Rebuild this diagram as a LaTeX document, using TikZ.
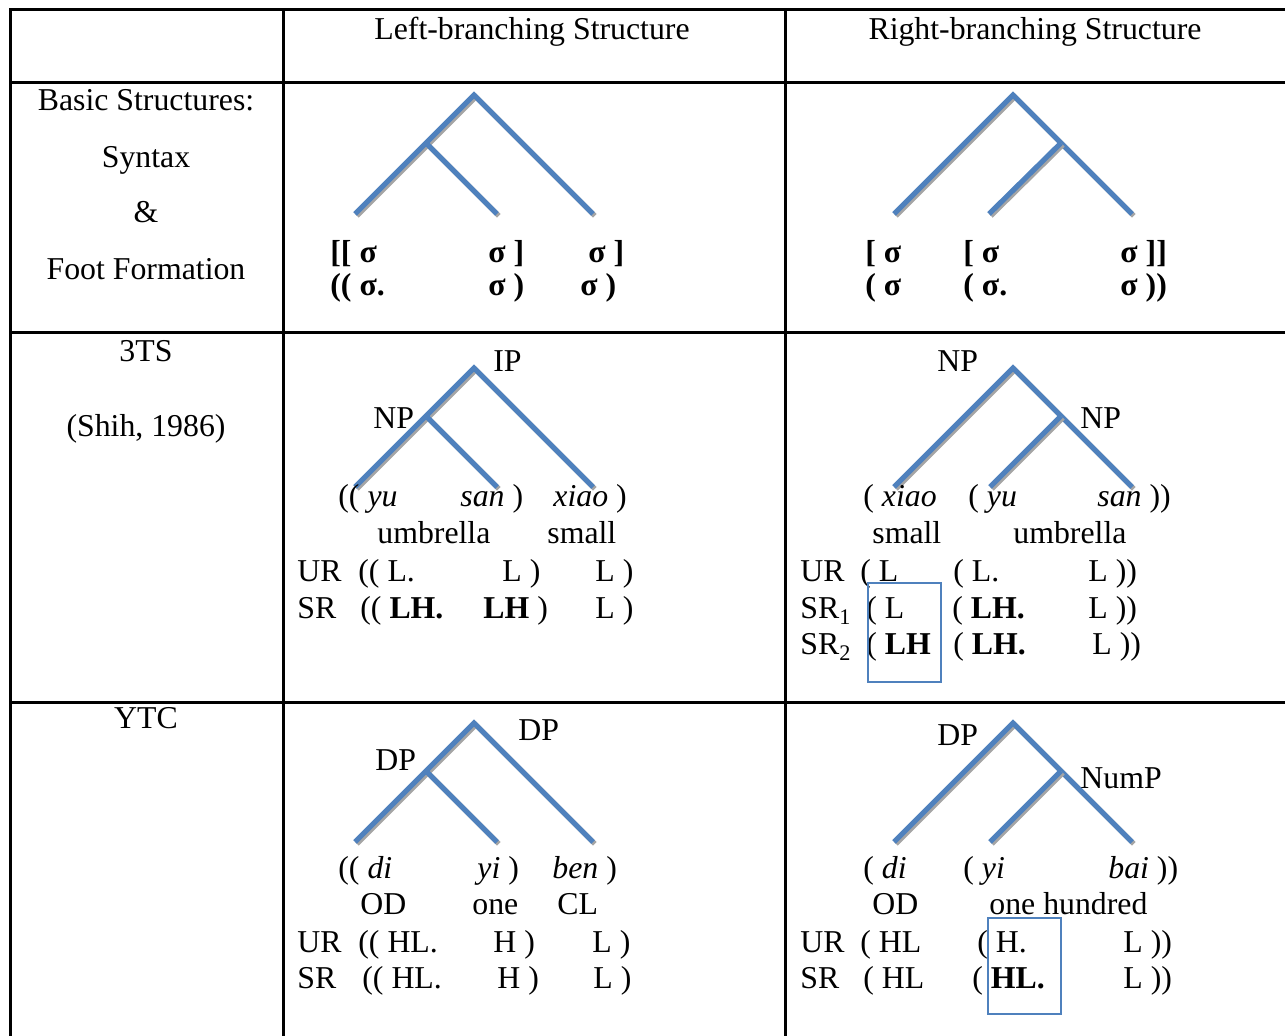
\documentclass[tikz,border=0pt]{standalone}
\usepackage{fontspec}
\setmainfont{Liberation Serif}
\definecolor{treeblue}{RGB}{79,129,189}
\definecolor{shadowgray}{RGB}{165,165,165}
\tikzset{
  >=stealth,
  gridline/.style={draw=black,line width=1.5pt},
  branch/.style={draw=treeblue,line width=2.6pt,line join=miter,
    preaction={draw=shadowgray,line width=2.6pt,transform canvas={xshift=0.9pt,yshift=-0.9pt}}},
  markbox/.style={draw=treeblue,line width=0.75pt},
  txt/.style={anchor=base west,inner sep=0pt},
  ctxt/.style={anchor=base,inner sep=0pt}
}

\begin{document}
\begin{tikzpicture}[x=0.5pt,y=-0.5pt,every node/.style={font=\fontsize{15.9pt}{19pt}\selectfont}]
  \useasboundingbox (0,0) rectangle (1285,1036);
  % table rules
  \draw[gridline] (1285,9.5) -- (10,9.5) -- (10,1036);
  \draw[gridline] (283,9.5) -- (283,1036);
  \draw[gridline] (785,9.5) -- (785,1036);
  \draw[gridline] (10,83) -- (1285,83);
  \draw[gridline] (10,333) -- (1285,333);
  \draw[gridline] (10,703) -- (1285,703);
  % header and first column
  \node[ctxt] (hLeft)  at (532,40)  {Left-branching Structure};
  \node[ctxt] (hRight) at (1035,40) {Right-branching Structure};
  \node[ctxt] (rBasic1) at (146,111) {Basic Structures:};
  \node[ctxt] (rBasic2) at (146,168) {Syntax};
  \node[ctxt] (rBasic3) at (146,223) {\&};
  \node[ctxt] (rBasic4) at (146,280) {Foot Formation};
  \node[ctxt] (r3ts1) at (146,362) {3TS};
  \node[ctxt] (r3ts2) at (146,437) {(Shih, 1986)};
  \node[ctxt] (rYtc)  at (146,729) {YTC};

  % basic structures, left-branching
  \coordinate (t1top) at (474,95);  \coordinate (t1mid) at (426,143);
  \coordinate (t1l) at (355,214);   \coordinate (t1m) at (497,214);  \coordinate (t1r) at (593,214);
  \draw[branch] (t1l) -- (t1top) -- (t1r);
  \draw[branch] (t1mid) -- (t1m);
  \node[txt] (bl1a) at (330,263) {\textbf{[[ σ}};
  \node[txt] (bl1b) at (488,263) {\textbf{σ ]}};
  \node[txt] (bl1c) at (588,263) {\textbf{σ ]}};
  \node[txt] (bl2a) at (330,296) {\textbf{(( σ.}};
  \node[txt] (bl2b) at (488,296) {\textbf{σ )}};
  \node[txt] (bl2c) at (580,296) {\textbf{σ )}};

  % basic structures, right-branching
  \coordinate (t2top) at (1013,95); \coordinate (t2mid) at (1061,143);
  \coordinate (t2l) at (894,214);   \coordinate (t2m) at (989,214);  \coordinate (t2r) at (1132,214);
  \draw[branch] (t2l) -- (t2top) -- (t2r);
  \draw[branch] (t2mid) -- (t2m);
  \node[txt] (br1a) at (865,263)  {\textbf{[ σ}};
  \node[txt] (br1b) at (963,263)  {\textbf{[ σ}};
  \node[txt] (br1c) at (1120,263) {\textbf{σ ]]}};
  \node[txt] (br2a) at (865,296)  {\textbf{( σ}};
  \node[txt] (br2b) at (963,296)  {\textbf{( σ.}};
  \node[txt] (br2c) at (1120,296) {\textbf{σ ))}};

  % 3TS, left-branching
  \coordinate (t3top) at (474,368); \coordinate (t3mid) at (426,416);
  \coordinate (t3l) at (355,487);   \coordinate (t3m) at (497,487);  \coordinate (t3r) at (593,487);
  \draw[branch] (t3l) -- (t3top) -- (t3r);
  \draw[branch] (t3mid) -- (t3m);
  \node[txt] (tlIP) at (493,372) {IP};
  \node[txt] (tlNP) at (373,429) {NP};
  \node[txt] (tlw1) at (338,507) {(( \textit{yu}};
  \node[txt] (tlw2) at (460,507) {\textit{san} )};
  \node[txt] (tlw3) at (553,507) {\textit{xiao} )};
  \node[txt] (tlg1) at (377,544) {umbrella};
  \node[txt] (tlg2) at (547,544) {small};
  \node[txt] (tlur)  at (297,582) {UR};
  \node[txt] (tlur1) at (358,582) {(( L.};
  \node[txt] (tlur2) at (502,582) {L )};
  \node[txt] (tlur3) at (595,582) {L )};
  \node[txt] (tlsr)  at (297,619) {SR};
  \node[txt] (tlsr1) at (360,619) {(( \textbf{LH.}};
  \node[txt] (tlsr2) at (483,619) {\textbf{LH} )};
  \node[txt] (tlsr3) at (595,619) {L )};

  % 3TS, right-branching
  \coordinate (t4top) at (1013,368); \coordinate (t4mid) at (1061,416);
  \coordinate (t4l) at (894,487);    \coordinate (t4m) at (990,487);  \coordinate (t4r) at (1132,487);
  \draw[branch] (t4l) -- (t4top) -- (t4r);
  \draw[branch] (t4mid) -- (t4m);
  \node[txt] (trNPa) at (937,372)  {NP};
  \node[txt] (trNPb) at (1080,429) {NP};
  \node[txt] (trw1) at (863,507)  {( \textit{xiao}};
  \node[txt] (trw2) at (968,507)  {( \textit{yu}};
  \node[txt] (trw3) at (1097,507) {\textit{san} ))};
  \node[txt] (trg1) at (872,544)  {small};
  \node[txt] (trg2) at (1013,544) {umbrella};
  \node[txt] (trur)  at (800,582)  {UR};
  \node[txt] (trur1) at (860,582)  {( L};
  \node[txt] (trur2) at (953,582)  {( L.};
  \node[txt] (trur3) at (1088,582) {L ))};
  \node[txt] (trsr)  at (800,619)  {SR\textsubscript{1}};
  \node[txt] (trsr1) at (866,619)  {( L};
  \node[txt] (trsr2) at (952,619)  {( \textbf{LH.}};
  \node[txt] (trsr3) at (1088,619) {L ))};
  \node[txt] (trsq)  at (800,655)  {SR\textsubscript{2}};
  \node[txt] (trsq1) at (866,655)  {( \textbf{LH}};
  \node[txt] (trsq2) at (953,655)  {( \textbf{LH.}};
  \node[txt] (trsq3) at (1092,655) {L ))};
  \draw[markbox] (868,583) rectangle (941,682);

  % YTC, left-branching
  \coordinate (t5top) at (474,723); \coordinate (t5mid) at (426,771);
  \coordinate (t5l) at (355,842);   \coordinate (t5m) at (497,842);  \coordinate (t5r) at (593,842);
  \draw[branch] (t5l) -- (t5top) -- (t5r);
  \draw[branch] (t5mid) -- (t5m);
  \node[txt] (ylDPa) at (518,741) {DP};
  \node[txt] (ylDPb) at (375,771) {DP};
  \node[txt] (ylw1) at (338,878) {(( \textit{di}};
  \node[txt] (ylw2) at (477,878) {\textit{yi} )};
  \node[txt] (ylw3) at (552,878) {\textit{ben} )};
  \node[txt] (ylg1) at (360,914) {OD};
  \node[txt] (ylg2) at (472,914) {one};
  \node[txt] (ylg3) at (557,914) {CL};
  \node[txt] (ylur)  at (297,952) {UR};
  \node[txt] (ylur1) at (358,952) {(( HL.};
  \node[txt] (ylur2) at (493,952) {H )};
  \node[txt] (ylur3) at (592,952) {L )};
  \node[txt] (ylsr)  at (297,988) {SR};
  \node[txt] (ylsr1) at (362,988) {(( HL.};
  \node[txt] (ylsr2) at (497,988) {H )};
  \node[txt] (ylsr3) at (593,988) {L )};

  % YTC, right-branching
  \coordinate (t6top) at (1013,723); \coordinate (t6mid) at (1061,771);
  \coordinate (t6l) at (894,842);    \coordinate (t6m) at (990,842);  \coordinate (t6r) at (1132,842);
  \draw[branch] (t6l) -- (t6top) -- (t6r);
  \draw[branch] (t6mid) -- (t6m);
  \node[txt] (yrDP)  at (937,746)  {DP};
  \node[txt] (yrNum) at (1080,789) {NumP};
  \node[txt] (yrw1) at (863,878)  {( \textit{di}};
  \node[txt] (yrw2) at (963,878)  {( \textit{yi}};
  \node[txt] (yrw3) at (1108,878) {\textit{bai} ))};
  \node[txt] (yrg1) at (872,914)  {OD};
  \node[txt] (yrg2) at (989,914)  {one hundred};
  \node[txt] (yrur)  at (800,952)  {UR};
  \node[txt] (yrur1) at (860,952)  {( HL};
  \node[txt] (yrur2) at (977,952)  {( H.};
  \node[txt] (yrur3) at (1123,952) {L ))};
  \node[txt] (yrsr)  at (800,988)  {SR};
  \node[txt] (yrsr1) at (863,988)  {( HL};
  \node[txt] (yrsr2) at (972,988)  {( \textbf{HL.}};
  \node[txt] (yrsr3) at (1123,988) {L ))};
  \draw[markbox] (988,918) rectangle (1061,1014);
\end{tikzpicture}
\end{document}
